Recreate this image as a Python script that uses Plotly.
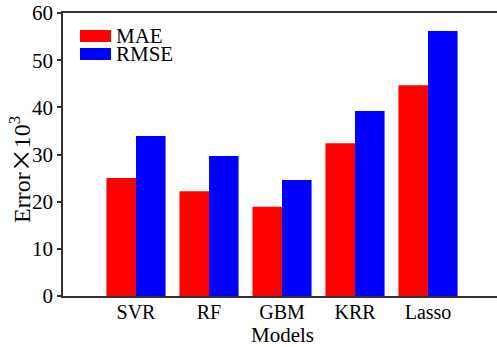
import plotly.graph_objects as go

models = ["SVR", "RF", "GBM", "KRR", "Lasso"]
mae = [25.0, 22.2, 18.9, 32.4, 44.7]
rmse = [33.9, 29.7, 24.6, 39.2, 56.2]
series_names = ["MAE", "RMSE"]
colors = ["#ff0000", "#0000ff"]
y_ticks = [0, 10, 20, 30, 40, 50, 60]

FONT = "Liberation Serif, Times New Roman, serif"
L, T, W, H = 63, 13, 434, 283  # plot area in px


def px_x(x):
    return (x - L) / W


def px_y(y):
    return (T + H - y) / H


fig = go.Figure()
for name, vals, col in zip(series_names, [mae, rmse], colors):
    fig.add_trace(go.Bar(x=models, y=vals, name=name, marker_color=col,
                         marker_line_width=0, showlegend=False))

# hand-drawn legend (wide swatches like the reference)
leg_x0, leg_w, leg_h = 80, 31, 12
leg_rows = [36, 54]
for name, col, yc in zip(series_names, colors, leg_rows):
    fig.add_shape(type="rect", xref="paper", yref="paper",
                  x0=px_x(leg_x0), x1=px_x(leg_x0 + leg_w),
                  y0=px_y(yc + leg_h / 2), y1=px_y(yc - leg_h / 2),
                  fillcolor=col, line_width=0)
    fig.add_annotation(xref="paper", yref="paper",
                       x=px_x(leg_x0 + leg_w + 4), y=px_y(yc),
                       text=name, showarrow=False, xanchor="left", yanchor="middle",
                       borderpad=0,
                       font=dict(family=FONT, size=21, color="black"))

# axis titles
fig.add_annotation(xref="paper", yref="paper", x=px_x(282), y=px_y(335),
                   text="Models", showarrow=False, xanchor="center", yanchor="middle",
                   borderpad=0,
                   font=dict(family=FONT, size=21, color="black"))
fig.add_annotation(xref="paper", yref="paper", x=px_x(20), y=px_y(170),
                   text="Error<span style=\"font-family:'Noto Sans CJK SC'\">×</span>10<sup>3</sup>",
                   textangle=-90, showarrow=False, xanchor="center", yanchor="middle",
                   font=dict(family=FONT, size=24, color="black"))

fig.update_layout(
    width=497, height=347,
    margin=dict(l=L, r=0, t=T, b=347 - T - H),
    paper_bgcolor="white", plot_bgcolor="white",
    barmode="group", bargap=0.19, bargroupgap=0,
    font=dict(family=FONT, size=20, color="black"),
    xaxis=dict(range=[-1, 4.945], showline=True, linecolor="#333", linewidth=1.5,
               mirror=True, ticks="", showgrid=False, tickfont=dict(size=20),
               ticklabelstandoff=-3),
    yaxis=dict(range=[0, 60], tickvals=y_ticks, showline=True, linecolor="#333",
               linewidth=1.5, ticks="outside", ticklen=4, tickwidth=1.5,
               tickcolor="#333", showgrid=False, zeroline=False,
               tickfont=dict(size=21)),
)

fig.write_html("out.html")
